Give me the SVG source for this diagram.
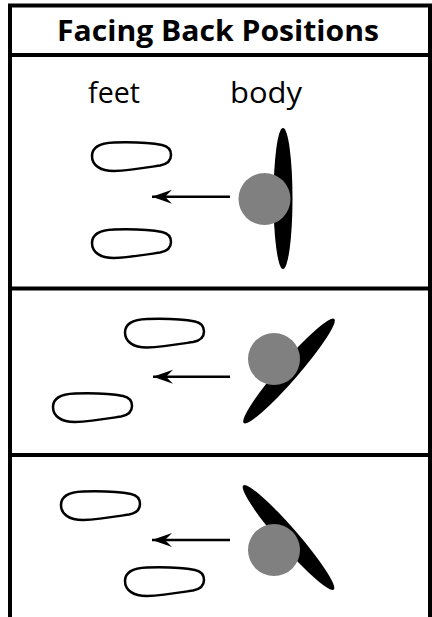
<svg xmlns="http://www.w3.org/2000/svg" width="432" height="617" viewBox="0 0 432 617">
  <style>
    .frame { fill: none; stroke: #000; stroke-width: 4; }
    .title { font-family: "Open Sans", "Liberation Sans", sans-serif; font-weight: bold; font-size: 28px; fill: #000; }
    .label { font-family: "Open Sans", "Liberation Sans", sans-serif; font-size: 29px; fill: #000; }
    .foot { fill: #fff; stroke: #000; stroke-width: 2.5; stroke-linejoin: round; }
    .body { fill: #000; }
    .head { fill: #808080; }
    .arrow { fill: none; stroke: #000; stroke-width: 2.6; }
  </style>
  <defs>
    <path id="footShape" d="M 0,14 C 0,5 8,1 22,0.5 C 40,0 60,1 70,3 C 77,4.5 79,9 79,13 C 79,18 76,22 68,23.5 C 55,25.5 38,28.5 22,29 C 8,29 0,23 0,14 Z"/>
    <marker id="ah" markerUnits="userSpaceOnUse" markerWidth="22" markerHeight="16" viewBox="0 0 22 16" refX="20" refY="8" orient="auto">
      <path d="M 0,1 L 20,8 L 0,15 L 7,8 Z" fill="#000"/>
    </marker>
  </defs>
  <rect width="432" height="617" fill="#fff"/>

  <g id="frame">
    <path class="frame" d="M 10,617 L 10,5.5 L 430,5.5 L 430,617"/>
    <line class="frame" x1="10" y1="55" x2="430" y2="55"/>
    <line class="frame" x1="10" y1="288.5" x2="430" y2="288.5"/>
    <line class="frame" x1="10" y1="455" x2="430" y2="455"/>
  </g>

  <g id="title">
    <text class="title" x="57" y="41" textLength="322" lengthAdjust="spacingAndGlyphs">Facing Back Positions</text>
  </g>
  <g id="labels">
    <text class="label" x="88" y="103" textLength="52" lengthAdjust="spacingAndGlyphs">feet</text>
    <text class="label" x="230" y="103" textLength="72" lengthAdjust="spacingAndGlyphs">body</text>
  </g>

  <g id="panel1">
    <g id="p1-foot-top"><use href="#footShape" class="foot" transform="translate(92,142)"/></g>
    <g id="p1-foot-bottom"><use href="#footShape" class="foot" transform="translate(92,229)"/></g>
    <g id="p1-body">
      <ellipse class="body" cx="283" cy="198.5" rx="9.5" ry="70.5"/>
      <circle class="head" cx="264.5" cy="199" r="26"/>
    </g>
  </g>

  <g id="panel2">
    <g id="p2-foot-top"><use href="#footShape" class="foot" transform="translate(125,318.5)"/></g>
    <g id="p2-foot-bottom"><use href="#footShape" class="foot" transform="translate(53,393)"/></g>
    <g id="p2-body">
      <ellipse class="body" cx="289" cy="371" rx="69" ry="9.5" transform="rotate(-49 289 371)"/>
      <circle class="head" cx="274" cy="359" r="26"/>
    </g>
  </g>

  <g id="panel3">
    <g id="p3-foot-top"><use href="#footShape" class="foot" transform="translate(61,491)"/></g>
    <g id="p3-foot-bottom"><use href="#footShape" class="foot" transform="translate(125,567)"/></g>
    <g id="p3-body">
      <ellipse class="body" cx="288.5" cy="537.5" rx="69" ry="9.5" transform="rotate(49 288.5 537.5)"/>
      <circle class="head" cx="274" cy="550" r="26"/>
    </g>
  </g>

  <g id="connectors">
    <line class="arrow" x1="230" y1="196.7" x2="152" y2="196.7" marker-end="url(#ah)"/>
    <line class="arrow" x1="230" y1="376.7" x2="153" y2="376.7" marker-end="url(#ah)"/>
    <line class="arrow" x1="230" y1="540" x2="152" y2="540" marker-end="url(#ah)"/>
  </g>
</svg>
